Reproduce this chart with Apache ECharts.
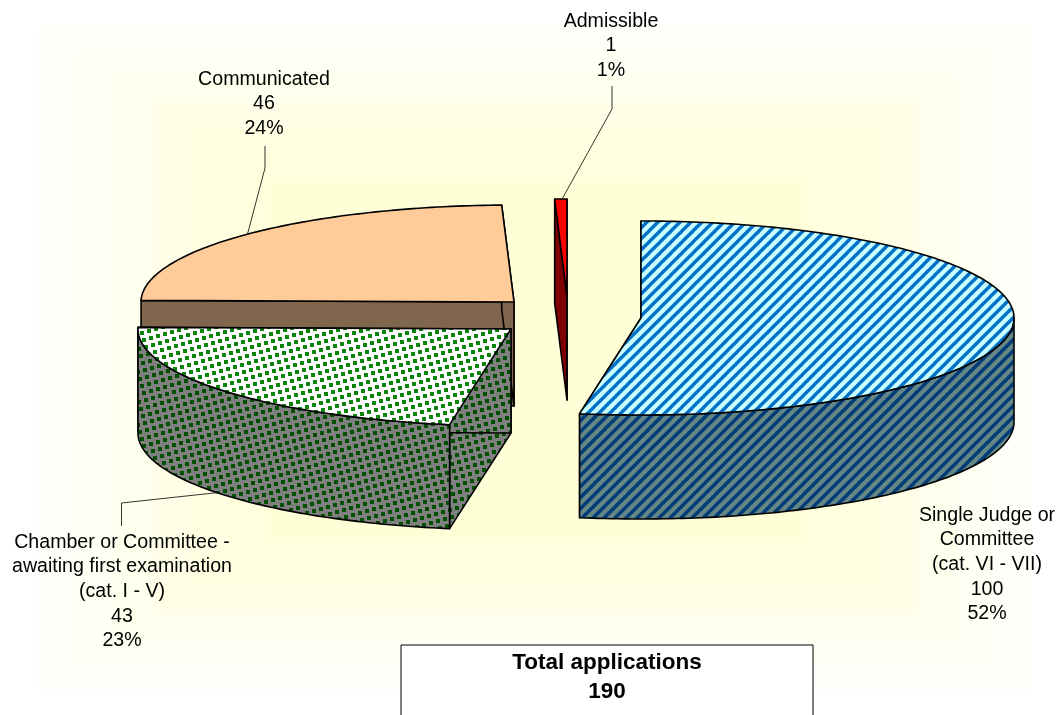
<!DOCTYPE html>
<html>
<head>
<meta charset="utf-8">
<title>Total applications</title>
<style>html,body{margin:0;padding:0;background:#fff}#c{width:1059px;height:715px}</style>
<script src="https://cdn.jsdelivr.net/npm/echarts@6/dist/echarts.min.js"></script>
</head>
<body>
<div id="c"></div>
<script>
// ---- data ----
var categories = ['Single Judge or\nCommittee\n(cat. VI - VII)', 'Chamber or Committee -\nawaiting first examination\n(cat. I - V)', 'Communicated', 'Admissible'];
var values = [100, 43, 46, 1];
var percentLabels = ['52%', '23%', '24%', '1%'];
var totalTitle = 'Total applications';
var totalValue = '190';

// ---- layout (not data) ----
var RX = 373, RY = 97, DEPTH = 104;
var apex = [[641, 318], [511, 329], [514, 302], [567, 296]];
var labelAt = [[987, 503], [122, 530], [264, 67], [611, 9]];
var leaders = [null, [[121.5, 526], [121.5, 503], [223, 492]], [[265, 146], [265, 168], [247, 236]], [[612, 86], [612, 109], [561, 201]]];
var drawOrder = [2, 3, 0, 1];
var LABEL_FONT = 19.6, LINE_H = 24.6;

// ---- fills ----
function tile(w, h, paint) {
  var c = document.createElement('canvas');
  c.width = w; c.height = h;
  paint(c.getContext('2d'), w, h);
  return { image: c, repeat: 'repeat' };
}
function stripes(bg, fg) {
  return tile(11, 11, function (g, w, h) {
    g.fillStyle = bg; g.fillRect(0, 0, w, h);
    g.strokeStyle = fg; g.lineWidth = 3.4;
    [-w, 0, w].forEach(function (o) {
      g.beginPath(); g.moveTo(o - 2, h + 2); g.lineTo(o + w + 2, -2); g.stroke();
    });
  });
}
function dots(bg, fg) {
  return tile(53, 53, function (g, w, h) {
    g.fillStyle = bg; g.fillRect(0, 0, w, h);
    g.fillStyle = fg;
    for (var i = -20; i < 20; i++) for (var j = -20; j < 20; j++) {
      var x = ((7 * i + 2 * j) % w + w) % w, y = ((-2 * i + 7 * j) % h + h) % h;
      [-w, 0].forEach(function (ox) { [-h, 0].forEach(function (oy) {
        g.fillRect(x + ox + (ox ? 0 : 0), y + oy, 4, 4);
        g.fillRect(x + ox + w, y + oy + h, 4, 4);
      }); });
    }
  });
}
var topFill = [stripes('#C8FFFF', '#0070C8'), dots('#FFFFFF', '#0A840A'), '#FFCC99', '#FF0000'];
var wallFill = [stripes('#648686', '#003C78'), dots('#808080', '#005000'), '#7F664C', '#7F0000'];

// ---- geometry from values ----
var total = values.reduce(function (a, b) { return a + b; }, 0);
var spans = [], acc = 0;
values.forEach(function (v) { spans.push([acc / total * 360, (acc + v) / total * 360]); acc += v; });

function rim(i, deg, dy) {
  var a = deg * Math.PI / 180;
  return [apex[i][0] + RX * Math.sin(a), apex[i][1] - RY * Math.cos(a) + (dy || 0)];
}
function arc(i, from, to, dy) {
  var pts = [], n = Math.max(2, Math.ceil(Math.abs(to - from)));
  for (var k = 0; k <= n; k++) pts.push(rim(i, from + (to - from) * k / n, dy));
  return pts;
}
function poly(points, fill, z2) {
  return { type: 'polygon', shape: { points: points }, z2: z2,
    style: { fill: fill, stroke: '#000', lineWidth: 1.6, lineJoin: 'round' } };
}
function renderSlice(params, api) {
  var i = api.value(0), s = spans[i], a0 = s[0], a1 = s[1], base = i * 10 + drawOrder.indexOf(i) * 100;
  var A = apex[i], kids = [];
  var wall = function (deg, z) {
    kids.push(poly([A, rim(i, deg), rim(i, deg, DEPTH), [A[0], A[1] + DEPTH]], wallFill[i], base + z));
  };
  wall(a0, 1); wall(a1, 1);
  var lo = Math.max(a0, 90), hi = Math.min(a1, 270);
  if (hi > lo) {
    kids.push(poly(arc(i, lo, hi).concat(arc(i, hi, lo, DEPTH)), wallFill[i], base + 2));
  }
  kids.push(poly([A].concat(arc(i, a0, a1)), topFill[i], base + 3));
  if (leaders[i]) {
    kids.push({ type: 'polyline', shape: { points: leaders[i] }, z2: 1,
      style: { fill: null, stroke: '#000', lineWidth: 0.8 } });
  }
  var text = [categories[i], values[i], percentLabels[i]].join('\n');
  kids.push({ type: 'text', x: labelAt[i][0], y: labelAt[i][1], z2: 2000,
    style: { text: text, fill: '#000', font: LABEL_FONT + 'px "Liberation Sans", Arial, sans-serif',
      lineHeight: LINE_H, align: 'center', verticalAlign: 'top' } });
  return { type: 'group', children: kids };
}

// ---- backdrop: stepped path gradient ----
var backdrop = [], STEPS = 14, CX = 535, CY = 358, HW = 535, HH = 358;
for (var b = 0; b < STEPS; b++) {
  var t = 1 - b / STEPS;                // 1 at edge → 0 at centre
  var mix = Math.min(1, (1 - t) / 0.5);
  var blue = Math.round(255 - 40 * mix);
  backdrop.push({ type: 'rect', z: -10, silent: true,
    shape: { x: CX - HW * t, y: CY - HH * t, width: 2 * HW * t, height: 2 * HH * t },
    style: { fill: 'rgb(255,255,' + blue + ')' } });
}
var box = [
  { type: 'rect', z: 5, shape: { x: 401, y: 645, width: 412, height: 90 }, style: { fill: '#fff', stroke: '#000', lineWidth: 1 } },
  { type: 'text', z: 6, x: 607, y: 648, style: { text: totalTitle + '\n' + totalValue, fill: '#000',
    font: 'bold 22.5px "Liberation Sans", Arial, sans-serif', lineHeight: 29.5, align: 'center', verticalAlign: 'top' } }
];

var chart = echarts.init(document.getElementById('c'), null, { renderer: 'canvas' });
chart.setOption({
  animation: false,
  backgroundColor: '#fff',
  graphic: { elements: backdrop.concat(box) },
  series: [{
    type: 'custom',
    coordinateSystem: 'none',
    silent: true,
    clip: false,
    data: drawOrder.map(function (i) { return [i, values[i]]; }),
    renderItem: renderSlice
  }]
});
</script>
</body>
</html>
